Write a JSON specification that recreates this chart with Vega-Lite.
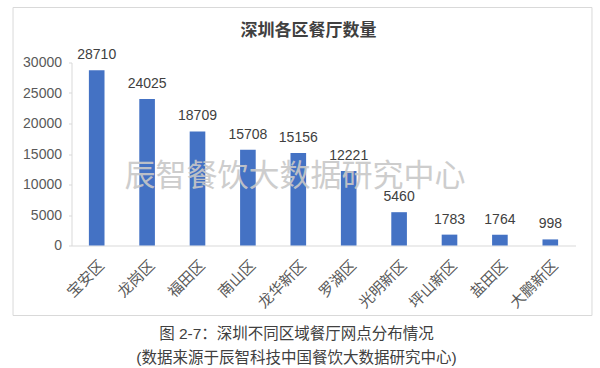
{
  "$schema": "https://vega.github.io/schema/vega-lite/v6.json",
  "width": 504,
  "height": 183,
  "autosize": {"type": "pad"},
  "padding": {"left": 12.5, "top": 6.5, "right": 0, "bottom": 0},
  "background": "white",
  "config": {
    "view": {"stroke": null},
    "font": "Liberation Sans, Noto Sans CJK SC",
    "axisY": {
      "tickCount": 7,
      "format": "d",
      "grid": false,
      "labelOverlap": false,
      "labelFlush": false,
      "domainColor": "#d9d9d9",
      "tickColor": "#d9d9d9",
      "tickSize": 3,
      "labelPadding": 7,
      "labelFontSize": 14,
      "labelColor": "#595959",
      "title": null
    }
  },
  "datasets": {
    "districts": [
      {"district": "宝安区", "count": 28710},
      {"district": "龙岗区", "count": 24025},
      {"district": "福田区", "count": 18709},
      {"district": "南山区", "count": 15708},
      {"district": "龙华新区", "count": 15156},
      {"district": "罗湖区", "count": 12221},
      {"district": "光明新区", "count": 5460},
      {"district": "坪山新区", "count": 1783},
      {"district": "盐田区", "count": 1764},
      {"district": "大鹏新区", "count": 998}
    ]
  },
  "layer": [
    {
      "data": {"name": "districts"},
      "layer": [
        {
          "mark": {"type": "bar", "color": "#4472C4"},
          "encoding": {
            "x": {
              "field": "district",
              "type": "nominal",
              "sort": null,
              "scale": {"paddingInner": 0.69, "paddingOuter": 0.345},
              "axis": {
                "title": null,
                "labelAngle": -45,
                "labelAlign": "right",
                "labelBaseline": "top",
                "labelPadding": 12,
                "labelFontSize": 15,
                "labelFont": "Noto Sans CJK SC",
                "labelColor": "#595959",
                "labelOverlap": false,
                "ticks": false,
                "domainColor": "#d9d9d9",
                "grid": false
              }
            },
            "y": {
              "field": "count",
              "type": "quantitative",
              "title": null,
              "scale": {"domain": [0, 30000], "nice": false}
            }
          }
        },
        {
          "mark": {"type": "text", "baseline": "alphabetic", "dy": -11, "fontSize": 14, "color": "#404040"},
          "encoding": {
            "x": {"field": "district", "type": "nominal", "sort": null},
            "y": {"field": "count", "type": "quantitative", "title": null},
            "text": {"field": "count", "type": "quantitative", "format": "d"}
          }
        }
      ]
    },
    {
      "data": {"values": [
        {"role": "frame", "label": ""}
      ]},
      "layer": [
        {
          "mark": {"type": "rect", "fillOpacity": 0, "stroke": "#d9d9d9", "strokeWidth": 1},
          "encoding": {
            "x": {"datum": -0.116, "type": "quantitative", "scale": {"domain": [0, 1], "nice": false, "zero": false}, "axis": null},
            "x2": {"datum": 1.0327},
            "y": {"datum": 39016, "type": "quantitative", "title": null},
            "y2": {"datum": -11475}
          }
        }
      ]
    },
    {
      "data": {"values": [
        {"role": "watermark", "label": "辰智餐饮大数据研究中心"}
      ]},
      "mark": {"type": "text", "font": "Noto Sans CJK SC", "fontSize": 31, "color": "#c8c8c8", "opacity": 0.9, "baseline": "middle", "align": "center"},
      "encoding": {
        "x": {"datum": 0.4435, "type": "quantitative", "scale": {"domain": [0, 1], "nice": false, "zero": false}, "axis": null},
        "y": {"datum": 11311, "type": "quantitative", "title": null},
        "text": {"field": "label"}
      }
    },
    {
      "data": {"values": [
        {"role": "title", "label": "深圳各区餐厅数量"}
      ]},
      "mark": {"type": "text", "font": "Noto Sans CJK SC", "fontSize": 17, "fontWeight": "bold", "color": "#404040", "baseline": "middle", "align": "center"},
      "encoding": {
        "x": {"datum": 0.4702, "type": "quantitative", "scale": {"domain": [0, 1], "nice": false, "zero": false}, "axis": null},
        "y": {"datum": 35164, "type": "quantitative", "title": null},
        "text": {"field": "label"}
      }
    },
    {
      "data": {"values": [
        {"role": "caption1", "label": "图 2-7：深圳不同区域餐厅网点分布情况"}
      ]},
      "mark": {"type": "text", "fontSize": 15.5, "color": "#404040", "baseline": "middle", "align": "center"},
      "encoding": {
        "x": {"datum": 0.4464, "type": "quantitative", "scale": {"domain": [0, 1], "nice": false, "zero": false}, "axis": null},
        "y": {"datum": -14508, "type": "quantitative", "title": null},
        "text": {"field": "label"}
      }
    },
    {
      "data": {"values": [
        {"role": "caption2", "label": "(数据来源于辰智科技中国餐饮大数据研究中心)"}
      ]},
      "mark": {"type": "text", "fontSize": 15.5, "color": "#404040", "baseline": "middle", "align": "center"},
      "encoding": {
        "x": {"datum": 0.4464, "type": "quantitative", "scale": {"domain": [0, 1], "nice": false, "zero": false}, "axis": null},
        "y": {"datum": -18443, "type": "quantitative", "title": null},
        "text": {"field": "label"}
      }
    }
  ],
  "resolve": {"scale": {"x": "independent"}}
}
